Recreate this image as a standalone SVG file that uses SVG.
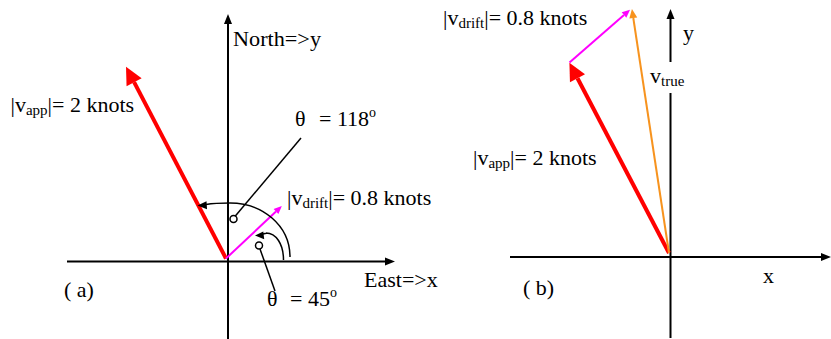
<svg xmlns="http://www.w3.org/2000/svg" width="831" height="339" viewBox="0 0 831 339">
<style>
text{font-family:"Liberation Serif","Times New Roman",serif;font-size:22px;fill:#000}
.sub{font-size:15px}
.sup{font-size:14px}
.ax{stroke:#000;stroke-width:2;fill:none}
.thin{stroke:#000;stroke-width:1.5;fill:none}
.red{stroke:#ff0000;stroke-width:4;fill:none}
.mag{stroke:#ff00ff;stroke-width:2;fill:none}
.org{stroke:#f7931e;stroke-width:2;fill:none}
.dot{stroke:#000;stroke-width:1.5;fill:#fff}
</style>
<defs>
<marker id="ak" markerUnits="userSpaceOnUse" markerWidth="12" markerHeight="10" refX="0" refY="4" orient="auto" overflow="visible"><path d="M0,0 L10,4 L0,8 Z" fill="#000"/></marker>
<marker id="ar" markerUnits="userSpaceOnUse" markerWidth="18" markerHeight="18" refX="0" refY="8.5" orient="auto" overflow="visible"><path d="M0,0 L17.5,8.5 L0,17 Z" fill="#ff0000"/></marker>
<marker id="am" markerUnits="userSpaceOnUse" markerWidth="10" markerHeight="8" refX="0" refY="3.5" orient="auto" overflow="visible"><path d="M0,0 L8,3.5 L0,7 Z" fill="#ff00ff"/></marker>
<marker id="ao" markerUnits="userSpaceOnUse" markerWidth="10" markerHeight="10" refX="0" refY="4" orient="auto" overflow="visible"><path d="M0,0 L9,4 L0,8 Z" fill="#f7931e"/></marker>
</defs>

<g id="connectors">
  <!-- panel a axes -->
  <line class="ax" x1="228" y1="339" x2="228" y2="24" marker-end="url(#ak)"/>
  <line class="ax" x1="67" y1="261.5" x2="385" y2="261.5" marker-end="url(#ak)"/>
  <!-- panel a vectors -->
  <line class="red" x1="226" y1="258.5" x2="134.1" y2="82.2" marker-end="url(#ar)"/>
  <line class="mag" x1="226" y1="258.5" x2="276" y2="211.5" marker-end="url(#am)"/>
  <!-- angle arcs -->
  <path class="thin" d="M290 257 C290 225 262 203 230 203 C220 203 212 203.5 206 204.5"/>
  <polygon points="197.5,205.5 206.5,201.2 207,209.2" fill="#000"/>
  <path class="thin" d="M283.5 260 C283.5 244 276 233 266 233 C268 233 266 233.5 263 234"/>
  <polygon points="255,235.5 263.3,231.5 264.2,239.3" fill="#000"/>
  <!-- leaders -->
  <line class="thin" x1="234.5" y1="217" x2="301" y2="138"/>
  <circle class="dot" cx="233.5" cy="219" r="3.5"/>
  <line class="thin" x1="260" y1="249" x2="275" y2="291"/>
  <circle class="dot" cx="259" cy="245.5" r="3.5"/>

  <!-- panel b axes -->
  <line class="ax" x1="670.5" y1="62" x2="670.5" y2="19" marker-end="url(#ak)"/>
  <line class="ax" x1="670.5" y1="93" x2="670.5" y2="338"/>
  <line class="ax" x1="510" y1="257" x2="821" y2="257" marker-end="url(#ak)"/>
  <!-- panel b vectors -->
  <line class="red" x1="669" y1="253" x2="577.5" y2="78.2" marker-end="url(#ar)"/>
  <line class="mag" x1="569.5" y1="62.5" x2="624" y2="15" marker-end="url(#am)"/>
  <line class="org" x1="669" y1="253" x2="633.3" y2="18" marker-end="url(#ao)"/>
</g>

<g id="labels-a">
  <text x="233" y="45.5" textLength="88" lengthAdjust="spacingAndGlyphs">North=&gt;y</text>
  <text x="10.5" y="111.5">|v<tspan class="sub" dy="3">app</tspan><tspan dy="-3">|= 2 knots</tspan></text>
  <text x="295" y="126">θ</text>
  <text x="319" y="126">= 118<tspan class="sup" dy="-9">o</tspan></text>
  <text x="287" y="205">|v<tspan class="sub" dy="3">drift</tspan><tspan dy="-3">|= 0.8 knots</tspan></text>
  <text x="364" y="287">East=&gt;x</text>
  <text x="64" y="297">( a)</text>
  <text x="267" y="305.5">θ</text>
  <text x="290" y="305.5">= 45<tspan class="sup" dy="-9">o</tspan></text>
</g>

<g id="labels-b">
  <text x="443" y="25">|v<tspan class="sub" dy="3">drift</tspan><tspan dy="-3">|= 0.8 knots</tspan></text>
  <text x="683" y="40">y</text>
  <text x="650" y="83">v<tspan class="sub" dy="3">true</tspan></text>
  <text x="473" y="165">|v<tspan class="sub" dy="3">app</tspan><tspan dy="-3">|= 2 knots</tspan></text>
  <text x="763" y="283">x</text>
  <text x="523" y="295">( b)</text>
</g>
</svg>
